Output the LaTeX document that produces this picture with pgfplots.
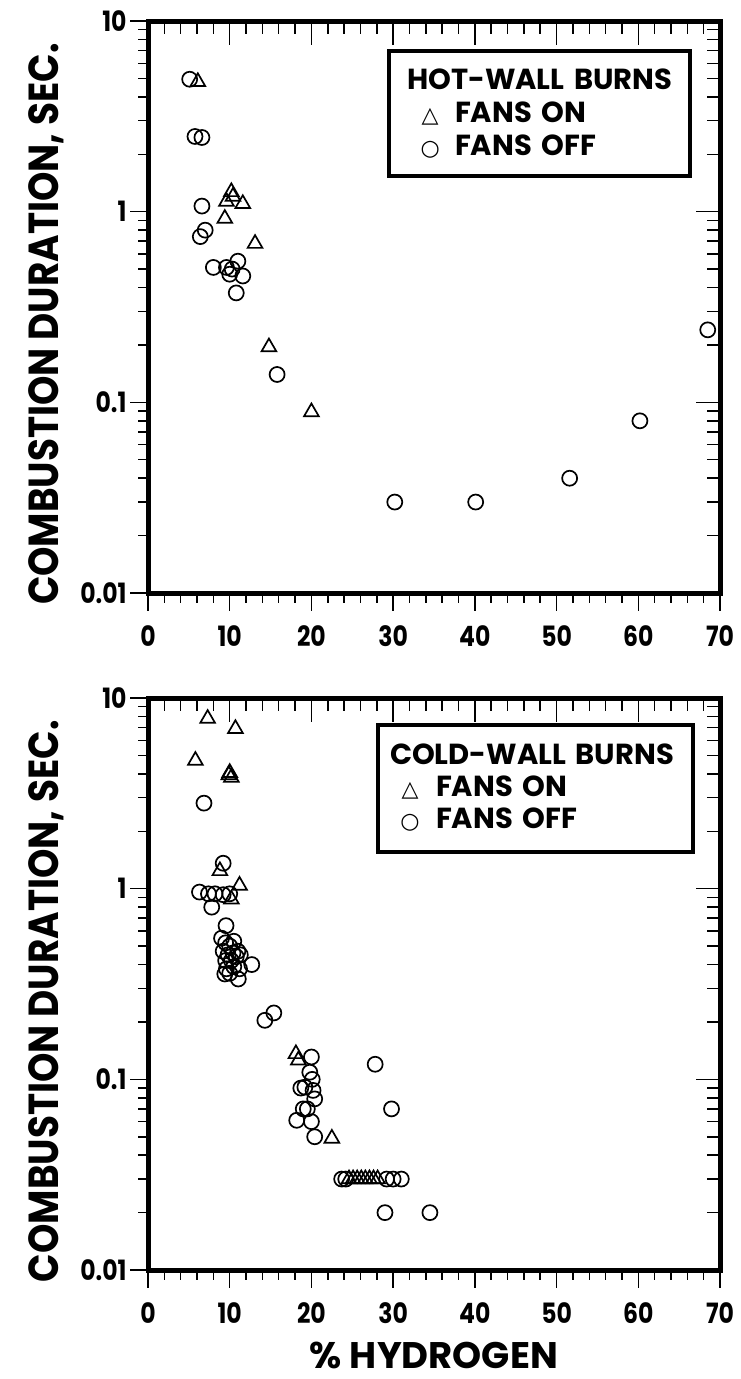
\documentclass[border=0pt]{standalone}
\usepackage{pgfplots}
\pgfplotsset{compat=1.18}
\usepackage{fontspec}
\setmainfont{Poppins}
\newfontfamily\ylabfont{Poppins}[FakeStretch=0.89]
\newfontfamily\tickfont{Poppins}[FakeStretch=0.84]
\newfontfamily\symfont{DejaVu Sans}

\tikzset{
  legendbox/.style={draw=black, line width=4pt, fill=white, anchor=north west,
    align=left, font=\fontsize{29}{33}\selectfont\bfseries},
}

\pgfplotsset{
  % main frame: thick box, ticks outward on bottom and left
  durouter/.style={
    scale only axis, width=572pt, height=572pt,
    xmin=0, xmax=70, ymin=0.01, ymax=10,
    xtick={0,10,20,30,40,50,60,70}, minor x tick num=4,
    ytick={0.01,0.1,1,10},
    clip=false,
    axis line style={line width=5pt, line cap=rect},
    tick pos=left, tick align=outside,
    major tick length=18pt, minor tick length=10pt,
    tick style={black, line width=1.5pt},
    xticklabels={0,10,20,30,40,50,60,70},
    yticklabels={0.01,0.1,1,10},
    tick label style={font=\tickfont\fontsize{28}{30}\selectfont\bfseries},
    xticklabel style={yshift=-11pt},
    every axis y label/.style={at={(axis description cs:-0.177,0.47)}, rotate=90, anchor=center,
      font=\ylabfont\fontsize{42}{44}\selectfont\bfseries},
    every axis x label/.style={at={(axis description cs:0.5,-0.150)}, anchor=center,
      font=\fontsize{37}{40}\selectfont\bfseries},
  },
  % companion frame: ticks inward on top and right
  durinner/.style={
    scale only axis, width=572pt, height=572pt,
    xmin=0, xmax=70, ymin=0.01, ymax=10,
    xtick={0,10,20,30,40,50,60,70}, minor x tick num=4,
    ytick={0.01,0.1,1,10},
    axis line style={draw=none},
    tick pos=right, tick align=inside,
    major tick length=24pt, minor tick length=13pt,
    tick style={black, line width=1.5pt},
    xticklabels={}, yticklabels={},
  },
  fanson/.style={only marks, mark=triangle, mark size=8.5pt,
    mark options={line width=1.7pt, black, fill=none}},
  fansoff/.style={only marks, mark=o, mark size=7.5pt,
    mark options={line width=1.7pt, black, fill=none}},
}
\newcommand{\tri}{{\symfont\fontsize{22}{22}\selectfont\mdseries △}}
\newcommand{\cir}{{\symfont\fontsize{22}{22}\selectfont\mdseries ○}}

\begin{document}
\begin{tikzpicture}
\path[use as bounding box] (0pt,0pt) rectangle (740pt,-1379pt);

% ---------------- hot-wall burns ----------------
\begin{semilogyaxis}[durinner, at={(148pt,-593pt)}, anchor=south west]
\addplot[draw=none, forget plot] coordinates {(0,0.01) (70,10)};
\end{semilogyaxis}
\begin{semilogyaxis}[durouter, at={(148pt,-593pt)}, anchor=south west,
  ylabel={COMBUSTION DURATION, SEC.}]
\addplot[fanson] coordinates {
 (6.1,4.8) (10.2,1.27) (10.4,1.2) (9.6,1.13) (11.6,1.10) (9.4,0.92)
 (13.1,0.68) (14.8,0.195) (20.0,0.089)};
\addplot[fansoff] coordinates {
 (5.1,4.95) (5.75,2.48) (6.6,2.45) (6.6,1.07) (7.0,0.80) (6.4,0.74)
 (8.0,0.51) (9.6,0.51) (11.0,0.55) (10.0,0.47) (10.3,0.50) (11.6,0.46) (10.8,0.375)
 (15.8,0.14) (30.2,0.03) (40.1,0.03) (51.6,0.04) (60.2,0.08) (68.5,0.24)};
\node[legendbox, text width=265pt, inner xsep=18pt, inner ysep=18pt]
  at (rel axis cs:0.418,0.951)
  {\mbox{HOT-WALL BURNS}\\
   \mbox{\hspace*{8pt}\makebox[30pt]{\tri}\hspace*{10pt}FANS ON}\\
   \mbox{\hspace*{8pt}\makebox[30pt]{\cir}\hspace*{10pt}FANS OFF}};
\end{semilogyaxis}

% ---------------- cold-wall burns ----------------
\begin{semilogyaxis}[durinner, at={(148pt,-1270pt)}, anchor=south west]
\addplot[draw=none, forget plot] coordinates {(0,0.01) (70,10)};
\end{semilogyaxis}
\begin{semilogyaxis}[durouter, at={(148pt,-1270pt)}, anchor=south west,
  ylabel={COMBUSTION DURATION, SEC.},
  xlabel={\% HYDROGEN}]
\addplot[fanson] coordinates {
 (7.3,7.8) (10.7,6.9) (5.8,4.7) (10.0,4.06) (10.2,3.83) (9.9,3.95)
 (8.8,1.24) (11.2,1.04) (10.2,0.88)
 (18.1,0.136) (18.4,0.126) (22.5,0.049)
 (24.6,0.03) (25.1,0.03) (25.6,0.03) (26.1,0.03) (26.6,0.03) (27.1,0.03) (27.6,0.03) (28.1,0.03)};
\addplot[fansoff] coordinates {
 (6.85,2.81) (9.2,1.36) (6.3,0.96) (7.4,0.94) (8.2,0.94) (9.2,0.93) (10.0,0.94)
 (7.8,0.80) (9.55,0.64)
 (9.0,0.55) (9.5,0.52) (10.0,0.50) (10.5,0.53) (9.2,0.47) (9.8,0.45) (10.4,0.46)
 (11.0,0.47) (9.5,0.42) (10.2,0.42) (10.8,0.44) (11.3,0.45) (9.6,0.38) (10.5,0.39)
 (11.2,0.38) (12.7,0.40) (9.4,0.357) (11.05,0.336) (10.0,0.36)
 (14.3,0.204) (15.4,0.223)
 (20.0,0.131) (19.8,0.109) (20.1,0.100) (19.2,0.091) (18.7,0.090) (20.2,0.0875)
 (20.4,0.079) (19.0,0.070) (19.5,0.070) (18.2,0.061) (20.0,0.060) (20.4,0.050)
 (27.8,0.12) (29.8,0.070)
 (23.7,0.03) (24.2,0.03) (29.2,0.03) (30.0,0.03) (31.0,0.03)
 (29.0,0.02) (34.5,0.02)};
\node[legendbox, text width=291pt, inner xsep=12pt, inner ysep=19pt,
  font=\fontsize{29}{32}\selectfont\bfseries]
  at (rel axis cs:0.3986,0.9564)
  {\mbox{COLD-WALL BURNS}\\
   \mbox{\hspace*{5pt}\makebox[30pt]{\tri}\hspace*{11pt}FANS ON}\\
   \mbox{\hspace*{5pt}\makebox[30pt]{\cir}\hspace*{11pt}FANS OFF\rule[-4pt]{0pt}{4pt}}};
\end{semilogyaxis}
\end{tikzpicture}
\end{document}
